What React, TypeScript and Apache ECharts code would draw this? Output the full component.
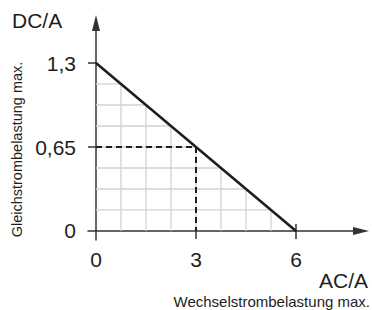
import React, { useEffect, useRef } from "react";
import * as echarts from "echarts";

// Data
const LIMIT_X = [0, 6];          // AC/A
const LIMIT_Y = [1.3, 0];        // DC/A
const DASH_POINT = [3, 0.65];    // marked operating point
const X_TICKS = [0, 3, 6];
const Y_TICKS = [0, 0.65, 1.3];
const GRID_DIVISIONS = 8;

const FONT = "'Liberation Sans', Arial, Helvetica, sans-serif";
const AXIS_COLOR = "#333";
const INK = "#1e1e1e";
const GRID_COLOR = "#d2d2d2";

const yOnLimit = (x: number) =>
  LIMIT_Y[0] + ((LIMIT_Y[1] - LIMIT_Y[0]) * (x - LIMIT_X[0])) / (LIMIT_X[1] - LIMIT_X[0]);
const xOnLimit = (y: number) =>
  LIMIT_X[0] + ((LIMIT_X[1] - LIMIT_X[0]) * (y - LIMIT_Y[0])) / (LIMIT_Y[1] - LIMIT_Y[0]);

const gridXs: number[] = [];
const gridYs: number[] = [];
for (let i = 1; i < GRID_DIVISIONS; i++) {
  gridXs.push(LIMIT_X[0] + ((LIMIT_X[1] - LIMIT_X[0]) * i) / GRID_DIVISIONS);
  gridYs.push(LIMIT_Y[1] + ((LIMIT_Y[0] - LIMIT_Y[1]) * i) / GRID_DIVISIONS);
}

const fmt = (v: number | string) => String(v).replace(".", ",");

export default function App() {
  const ref = useRef<HTMLDivElement>(null);
  useEffect(() => {
    if (!ref.current) return;
    const chart = echarts.init(ref.current, undefined, { renderer: "svg" });
    chart.setOption({
      animation: false,
      backgroundColor: "#fff",
      grid: { left: 88, right: 11, top: 23, bottom: 70, containLabel: false },
      xAxis: {
        type: "value",
        min: -0.24,
        max: 7.95,
        splitLine: { show: false },
        axisLine: {
          show: true,
          onZero: true,
          symbol: ["none", "triangle"],
          symbolSize: [8, 16],
          lineStyle: { color: AXIS_COLOR, width: 1.5 },
        },
        axisTick: {
          show: true,
          inside: false,
          length: 8,
          customValues: [3, 6],
          lineStyle: { color: AXIS_COLOR, width: 1.5 },
        },
        axisLabel: {
          customValues: X_TICKS,
          formatter: fmt,
          margin: 9,
          fontSize: 21,
          fontFamily: FONT,
          color: INK,
        },
      },
      yAxis: {
        type: "value",
        min: -0.07,
        max: 1.61,
        splitLine: { show: false },
        axisLine: {
          show: true,
          onZero: true,
          symbol: ["none", "triangle"],
          symbolSize: [8, 16],
          lineStyle: { color: AXIS_COLOR, width: 1.5 },
        },
        axisTick: {
          show: true,
          inside: false,
          length: 8,
          customValues: [0.65, 1.3],
          lineStyle: { color: AXIS_COLOR, width: 1.5 },
        },
        axisLabel: {
          customValues: Y_TICKS,
          formatter: fmt,
          margin: 12,
          fontSize: 21,
          fontFamily: FONT,
          color: INK,
        },
      },
      series: [
        {
          type: "custom",
          name: "grid-v",
          silent: true,
          z: 1,
          data: gridXs.map((x) => [x]),
          renderItem: (params: any, api: any) => {
            const x = api.value(0);
            const p0 = api.coord([x, 0]);
            const p1 = api.coord([x, yOnLimit(x)]);
            return {
              type: "line",
              shape: { x1: p0[0], y1: p0[1], x2: p1[0], y2: p1[1] },
              style: { stroke: GRID_COLOR, lineWidth: 1.3 },
            };
          },
        },
        {
          type: "custom",
          name: "grid-h",
          silent: true,
          z: 1,
          data: gridYs.map((y) => [0, y]),
          renderItem: (params: any, api: any) => {
            const y = api.value(1);
            const p0 = api.coord([0, y]);
            const p1 = api.coord([xOnLimit(y), y]);
            return {
              type: "line",
              shape: { x1: p0[0], y1: p0[1], x2: p1[0], y2: p1[1] },
              style: { stroke: GRID_COLOR, lineWidth: 1.3 },
            };
          },
        },
        {
          type: "custom",
          name: "tick-up",
          silent: true,
          z: 3,
          data: [[LIMIT_X[1], 0]],
          renderItem: (params: any, api: any) => {
            const p = api.coord([api.value(0), api.value(1)]);
            return {
              type: "line",
              shape: { x1: p[0], y1: p[1], x2: p[0], y2: p[1] - 7 },
              style: { stroke: AXIS_COLOR, lineWidth: 1.5 },
            };
          },
        },
        {
          type: "line",
          name: "dashed",
          z: 4,
          symbol: "none",
          data: [
            [LIMIT_X[0], DASH_POINT[1]],
            [DASH_POINT[0], DASH_POINT[1]],
            [DASH_POINT[0], 0],
          ],
          lineStyle: { color: INK, width: 2, type: [6, 4] },
        },
        {
          type: "line",
          name: "limit",
          z: 5,
          symbol: "none",
          data: LIMIT_X.map((x, i) => [x, LIMIT_Y[i]]),
          lineStyle: { color: INK, width: 2.6 },
        },
      ],
      graphic: [
        {
          type: "text",
          x: 12,
          y: 20,
          style: {
            text: "DC/A",
            fontSize: 21,
            fontFamily: FONT,
            fill: INK,
            align: "left",
            verticalAlign: "middle",
          },
        },
        {
          type: "text",
          x: 368,
          y: 280,
          style: {
            text: "AC/A",
            fontSize: 21,
            fontFamily: FONT,
            fill: INK,
            align: "right",
            verticalAlign: "middle",
          },
        },
        {
          type: "text",
          x: 370,
          y: 301,
          style: {
            text: "Wechselstrombelastung max.",
            fontSize: 15,
            fontFamily: FONT,
            fill: INK,
            align: "right",
            verticalAlign: "middle",
          },
        },
        {
          type: "text",
          x: 16.5,
          y: 149.5,
          rotation: Math.PI / 2,
          style: {
            text: "Gleichstrombelastung max.",
            fontSize: 14.5,
            fontFamily: FONT,
            fill: INK,
            align: "center",
            verticalAlign: "middle",
          },
        },
      ],
    });
    return () => chart.dispose();
  }, []);
  return (
    <div
      ref={ref}
      style={{ position: "fixed", left: 0, top: 0, width: 372, height: 310 }}
    />
  );
}
